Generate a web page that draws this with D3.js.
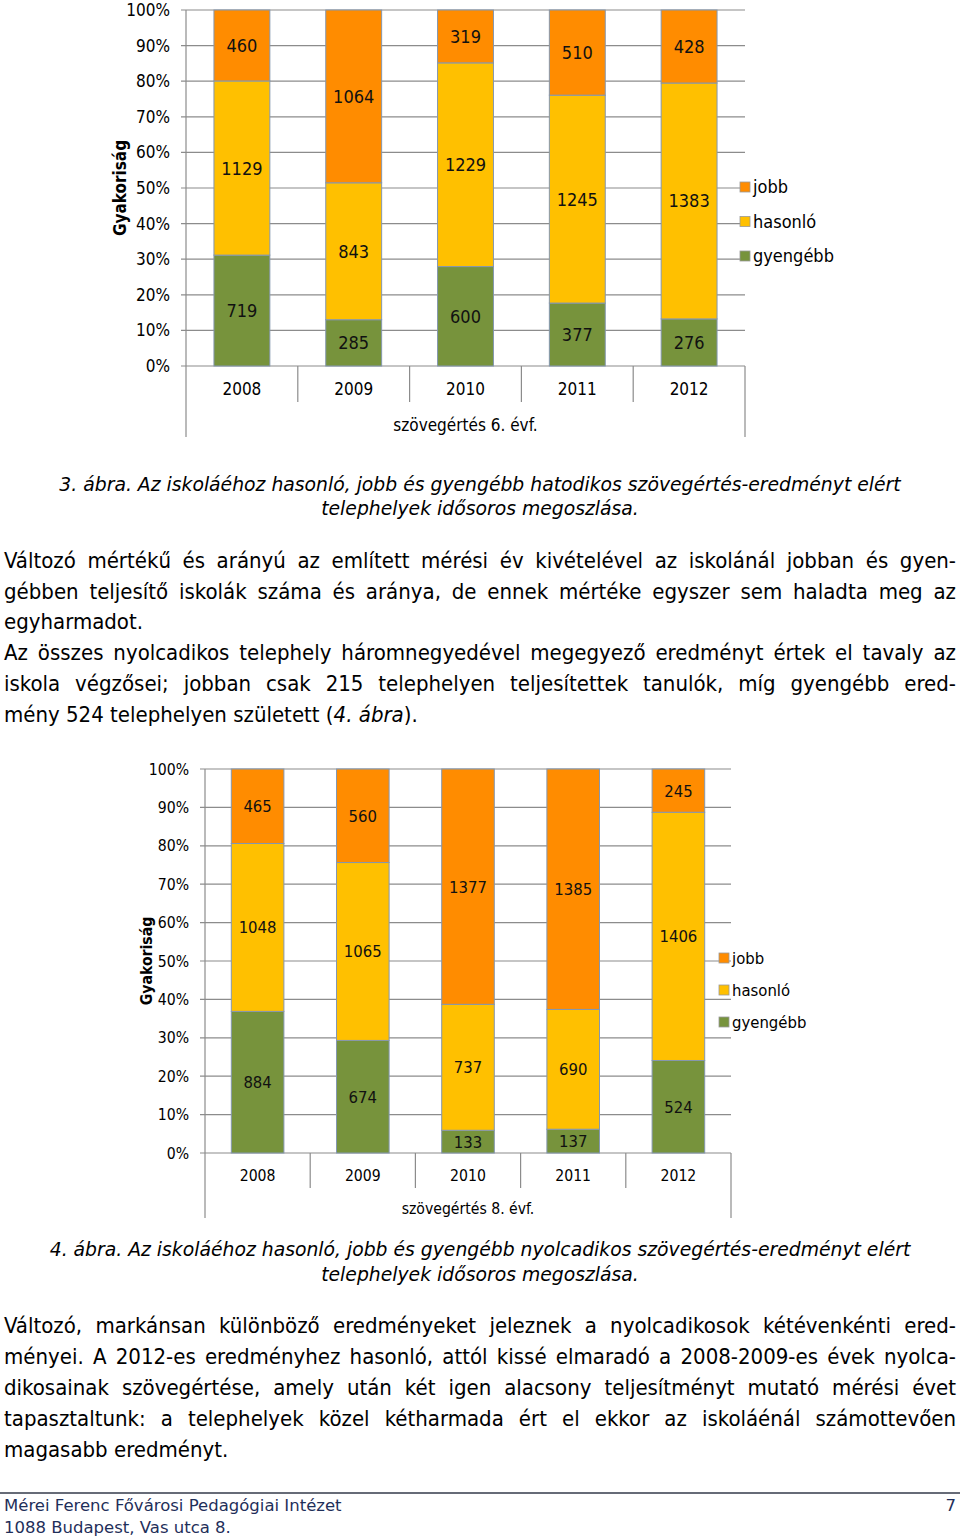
<!DOCTYPE html>
<html>
<head>
<meta charset="utf-8">
<script src="https://cdn.jsdelivr.net/npm/d3@7"></script>
<style>
  html, body { margin: 0; padding: 0; background: #fff; }
  body { width: 960px; height: 1540px; position: relative; overflow: hidden;
         font-family: "DejaVu Sans", sans-serif; }
  svg { position: absolute; left: 0; top: 0; }
  .ln { position: absolute; left: 4px; width: 952px; height: 31px; line-height: 31px;
        font-family: "DejaVu Sans Condensed", "DejaVu Sans", sans-serif;
        font-size: 22px; color: #000; text-align: justify; text-align-last: justify; white-space: nowrap;
        transform-origin: 0 50%; }
  .ln.last { text-align: left; text-align-last: left; }
  .cap { position: absolute; left: 0; width: 960px; height: 25px; line-height: 25px;
         font-size: 18.8px; font-style: italic; text-align: center; color: #000; }
  .foot { position: absolute; left: 4px; font-size: 16.5px; color: #1f2f5a; line-height: 22px; }
</style>
</head>
<body>
<svg id="chart" width="960" height="1540"></svg>

<div class="cap" style="top:472px">3. ábra. Az iskoláéhoz hasonló, jobb és gyengébb hatodikos szövegértés-eredményt elért</div>
<div class="cap" style="top:496px">telephelyek idősoros megoszlása.</div>

<div class="ln" style="top:545px">Változó mértékű és arányú az említett mérési év kivételével az iskolánál jobban és gyen-</div>
<div class="ln" style="top:576px">gébben teljesítő iskolák száma és aránya, de ennek mértéke egyszer sem haladta meg az</div>
<div class="ln last" style="top:606px">egyharmadot.</div>
<div class="ln" style="top:637px">Az összes nyolcadikos telephely háromnegyedével megegyező eredményt értek el tavaly az</div>
<div class="ln" style="top:668px">iskola végzősei; jobban csak 215 telephelyen teljesítettek tanulók, míg gyengébb ered-</div>
<div class="ln last" style="top:699px">mény 524 telephelyen született (<i>4. ábra</i>).</div>

<div class="cap" style="top:1237px">4. ábra. Az iskoláéhoz hasonló, jobb és gyengébb nyolcadikos szövegértés-eredményt elért</div>
<div class="cap" style="top:1262px">telephelyek idősoros megoszlása.</div>

<div class="ln" style="top:1310px">Változó, markánsan különböző eredményeket jeleznek a nyolcadikosok kétévenkénti ered-</div>
<div class="ln" style="top:1341px">ményei. A 2012-es eredményhez hasonló, attól kissé elmaradó a 2008-2009-es évek nyolca-</div>
<div class="ln" style="top:1372px">dikosainak szövegértése, amely után két igen alacsony teljesítményt mutató mérési évet</div>
<div class="ln" style="top:1403px">tapasztaltunk: a telephelyek közel kétharmada ért el ekkor az iskoláénál számottevően</div>
<div class="ln last" style="top:1434px">magasabb eredményt.</div>

<div class="foot" style="top:1495px">Mérei Ferenc Fővárosi Pedagógiai Intézet</div>
<div class="foot" style="top:1495px; left:auto; right:4px;">7</div>
<div class="foot" style="top:1517px">1088 Budapest, Vas utca 8.</div>

<script>
// ---- data ----
const years = ["2008", "2009", "2010", "2011", "2012"];
const seriesNames = ["gyengébb", "hasonló", "jobb"];
const legendOrder = ["jobb", "hasonló", "gyengébb"];
const seriesColors = ["#77933c", "#ffc000", "#ff8c00"];
const tickValues = [0, 0.1, 0.2, 0.3, 0.4, 0.5, 0.6, 0.7, 0.8, 0.9, 1.0];
const tickLabels = ["0%", "10%", "20%", "30%", "40%", "50%", "60%", "70%", "80%", "90%", "100%"];

const evf6_gyengebb = [719, 285, 600, 377, 276];
const evf6_hasonlo  = [1129, 843, 1229, 1245, 1383];
const evf6_jobb     = [460, 1064, 319, 510, 428];

const evf8_gyengebb = [884, 674, 133, 137, 524];
const evf8_hasonlo  = [1048, 1065, 737, 690, 1406];
const evf8_jobb     = [465, 560, 1377, 1385, 245];

const svg = d3.select("#chart");
const chartFont = "DejaVu Sans Condensed, DejaVu Sans, sans-serif";

function drawChart(cfg) {
  const s = cfg.fs;
  const g = svg.append("g").attr("font-family", chartFont);
  const x = d3.scaleBand().domain(years).range([cfg.x0, cfg.x1]).paddingInner(0.5).paddingOuter(0.25);
  const y = d3.scaleLinear().domain([0, 1]).range([cfg.y0, cfg.y1]);
  const rows = years.map((yr, i) => {
    const vals = [cfg.g[i], cfg.h[i], cfg.j[i]];
    return { year: yr, vals, tot: d3.sum(vals) };
  });
  const gridColor = "#8c8c8c";

  g.selectAll("line.grid").data(tickValues).enter().append("line")
    .attr("x1", cfg.x0 - 5).attr("x2", cfg.x1)
    .attr("y1", d => y(d)).attr("y2", d => y(d))
    .attr("stroke", gridColor).attr("stroke-width", 1.2);

  const yAxis = d3.axisLeft(y).tickValues(tickValues).tickFormat((d, i) => tickLabels[i]).tickSize(0).tickPadding(16);
  const ya = g.append("g").attr("transform", `translate(${cfg.x0},0)`).call(yAxis);
  ya.select(".domain").remove();
  ya.selectAll("text").attr("font-size", 17 * s).attr("fill", "#000").attr("font-family", chartFont);

  g.append("line").attr("x1", cfg.x0).attr("x2", cfg.x0).attr("y1", cfg.y1).attr("y2", cfg.yBottom)
    .attr("stroke", gridColor).attr("stroke-width", 1.2);
  g.append("line").attr("x1", cfg.x1).attr("x2", cfg.x1).attr("y1", cfg.y0).attr("y2", cfg.yBottom)
    .attr("stroke", gridColor).attr("stroke-width", 1.2);
  const step = x.step();
  g.selectAll("line.sep").data(years.slice(1)).enter().append("line")
    .attr("x1", d => x(d) - x.paddingInner() * step / 2)
    .attr("x2", d => x(d) - x.paddingInner() * step / 2)
    .attr("y1", cfg.y0).attr("y2", cfg.ySep)
    .attr("stroke", gridColor).attr("stroke-width", 1.2);

  rows.forEach(r => {
    let acc = 0;
    r.vals.forEach((v, k) => {
      const p0 = acc / r.tot, p1 = (acc + v) / r.tot;
      acc += v;
      g.append("rect")
        .attr("x", x(r.year)).attr("width", x.bandwidth())
        .attr("y", y(p1)).attr("height", y(p0) - y(p1))
        .attr("fill", seriesColors[k]).attr("stroke", "#8497b0").attr("stroke-width", 1);
      g.append("text")
        .attr("x", x(r.year) + x.bandwidth() / 2)
        .attr("y", (y(p0) + y(p1)) / 2)
        .attr("dy", "0.36em").attr("text-anchor", "middle")
        .attr("font-size", 18 * s).attr("fill", "#111")
        .text(v);
    });
  });

  g.selectAll("text.cat").data(years).enter().append("text")
    .attr("x", d => x(d) + x.bandwidth() / 2).attr("y", cfg.yCat)
    .attr("dy", "0.36em").attr("text-anchor", "middle")
    .attr("font-size", 17 * s).attr("fill", "#000").text(d => d);
  g.append("text").attr("x", (cfg.x0 + cfg.x1) / 2).attr("y", cfg.yGroup)
    .attr("dy", "0.36em").attr("text-anchor", "middle")
    .attr("font-size", 17 * s).attr("fill", "#000").text(cfg.group);

  g.append("text").attr("transform", `translate(${cfg.yTitleX},${cfg.yTitleY}) rotate(-90)`)
    .attr("dy", "0.36em").attr("text-anchor", "middle")
    .attr("font-size", 17 * s).attr("font-weight", "bold").attr("fill", "#000").text("Gyakoriság");

  legendOrder.forEach((name, i) => {
    const k = seriesNames.indexOf(name);
    const ly = cfg.legY + i * cfg.legStep;
    g.append("rect").attr("x", cfg.legX).attr("y", ly - 5).attr("width", 10).attr("height", 10)
      .attr("fill", seriesColors[k]).attr("stroke", "#9a9a9a").attr("stroke-width", 0.8);
    g.append("text").attr("x", cfg.legX + 13).attr("y", ly).attr("dy", "0.36em")
      .attr("font-size", 18 * s).attr("fill", "#000").text(name);
  });
}

drawChart({ x0: 186, x1: 745, y0: 366, y1: 10, ySep: 402, yBottom: 437, yCat: 389, yGroup: 425,
  group: "szövegértés 6. évf.", g: evf6_gyengebb, h: evf6_hasonlo, j: evf6_jobb, fs: 1,
  yTitleX: 120, yTitleY: 188, legX: 740, legY: 187, legStep: 34.5 });

drawChart({ x0: 205, x1: 731, y0: 1153, y1: 769, ySep: 1188, yBottom: 1218, yCat: 1175, yGroup: 1208,
  group: "szövegértés 8. évf.", g: evf8_gyengebb, h: evf8_hasonlo, j: evf8_jobb, fs: 0.92,
  yTitleX: 146, yTitleY: 961, legX: 719, legY: 958, legStep: 32 });

svg.append("line").attr("x1", 0).attr("x2", 960).attr("y1", 1493).attr("y2", 1493)
  .attr("stroke", "#333a4a").attr("stroke-width", 1.5);

// safety: squeeze any body line that would overflow its box
document.querySelectorAll(".ln").forEach(el => {
  const w = el.scrollWidth;
  if (w > 952) { el.style.transform = `scaleX(${952 / w})`; el.style.width = w + "px"; }
});
</script>
</body>
</html>
